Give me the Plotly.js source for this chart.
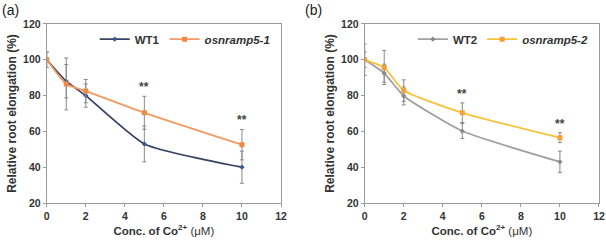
<!DOCTYPE html>
<html><head><meta charset="utf-8">
<script src="https://cdn.plot.ly/plotly-3.0.1.min.js"></script>
<style>body{margin:0;background:#fff}#c{width:606px;height:247px}</style>
</head><body><div id="c"></div>
<script>
const conc = [0, 1, 2, 5, 10];
const wt1 = [100, 88, 80, 53, 40];
const wt1Err = [4.3, 9.3, 6.5, 10, 9];
const mut1 = [100, 86.5, 82.5, 70.4, 52.6];
const mut1Err = [4.3, 14.5, 6.5, 9.2, 8.5];
const wt2 = [100, 92.5, 79.8, 60.2, 43];
const wt2Err = [8.8, 5, 5, 4.2, 6];
const mut2 = [100, 95.7, 82.8, 70.4, 56.5];
const mut2Err = [4.4, 9.5, 6, 5.5, 2.8];
const sigConc = [5, 10];

function errBar(e){return {type:'data', array:e, visible:true, color:'#8a8a8a', thickness:1, width:2};}
function tr(y, e, name, xa, ya, lineCol, mk, leg){
  return {x:conc, y:y, error_y:errBar(e), name:name, xaxis:xa, yaxis:ya, mode:'lines+markers',
    line:{color:lineCol, width:1.8, shape:'spline', smoothing:0.5}, marker:mk, legend:leg, type:'scatter'};
}
const traces = [
  tr(wt1, wt1Err, '<b>WT1</b>', 'x', 'y', '#3a4262', {symbol:'diamond', size:4, color:'#3a5a8a'}, 'legend'),
  tr(mut1, mut1Err, '<b><i>osnramp5-1</i></b>', 'x', 'y', '#f29a62', {symbol:'square', size:5, color:'#ee8a45'}, 'legend'),
  tr(wt2, wt2Err, '<b>WT2</b>', 'x2', 'y2', '#a0a0a0', {symbol:'diamond', size:4, color:'#888'}, 'legend2'),
  tr(mut2, mut2Err, '<b><i>osnramp5-2</i></b>', 'x2', 'y2', '#f5c23a', {symbol:'square', size:5, color:'#f2a23a'}, 'legend2')
];

const ann = [];
function sig(mean, err, xa, ya){
  sigConc.forEach(c=>{const i=conc.indexOf(c);
    ann.push({x:c, y:mean[i]+err[i], xref:xa, yref:ya, text:'<b>**</b>', showarrow:false,
      yanchor:'bottom', font:{size:12, color:'#444', family:'Liberation Sans'}});});
}
sig(mut1, mut1Err, 'x', 'y');
sig(mut2, mut2Err, 'x2', 'y2');
ann.push({x:0, y:1, xref:'paper', yref:'paper', xanchor:'left', yanchor:'top', text:'(a)', showarrow:false, font:{size:14, color:'#222', family:'Liberation Sans'}});
ann.push({x:303/606, y:1, xref:'paper', yref:'paper', xanchor:'left', yanchor:'top', text:'(b)', showarrow:false, font:{size:14, color:'#222', family:'Liberation Sans'}});

function xax(dom, anchor){return {domain:dom, anchor:anchor, range:[0,12], dtick:2, tick0:0, showgrid:false, zeroline:false,
  showline:true, mirror:true, linecolor:'#9a9a9a', linewidth:1, ticks:'outside', ticklen:3, tickcolor:'#9a9a9a',
  tickfont:{size:10.5, color:'#333', weight:'bold'},
  title:{text:'<b>Conc. of Co<sup>2+</sup></b> (μM)', font:{size:11.5, color:'#333'}, standoff:6}};}
function yax(anchor){return {domain:[0.178,0.903], anchor:anchor, range:[20,120], dtick:20, showgrid:false, zeroline:false,
  showline:true, mirror:true, linecolor:'#9a9a9a', linewidth:1, ticks:'outside', ticklen:3, tickcolor:'#9a9a9a',
  tickfont:{size:10.5, color:'#333', weight:'bold'},
  title:{text:'<b>Relative root elongation (%)</b>', font:{size:12, color:'#333'}, standoff:3}};}
const leg = (x)=>({x:x, y:0.9, xanchor:'right', yanchor:'top', orientation:'h', bgcolor:'rgba(0,0,0,0)',
  font:{size:11.5, color:'#333'}, itemwidth:30, tracegroupgap:0});
const layout = {
  width:606, height:247, margin:{l:0, r:0, t:0, b:0}, paper_bgcolor:'#fff', plot_bgcolor:'#fff',
  font:{family:'Liberation Sans, Arial, sans-serif'},
  xaxis:xax([0.0771,0.4637],'y'), yaxis:yax('x'),
  xaxis2:xax([0.6018,0.9884],'y2'), yaxis2:yax('x2'),
  legend:leg(0.455), legend2:leg(0.98),
  annotations:ann, showlegend:true
};
Plotly.newPlot('c', traces, layout, {staticPlot:true});
</script></body></html>
